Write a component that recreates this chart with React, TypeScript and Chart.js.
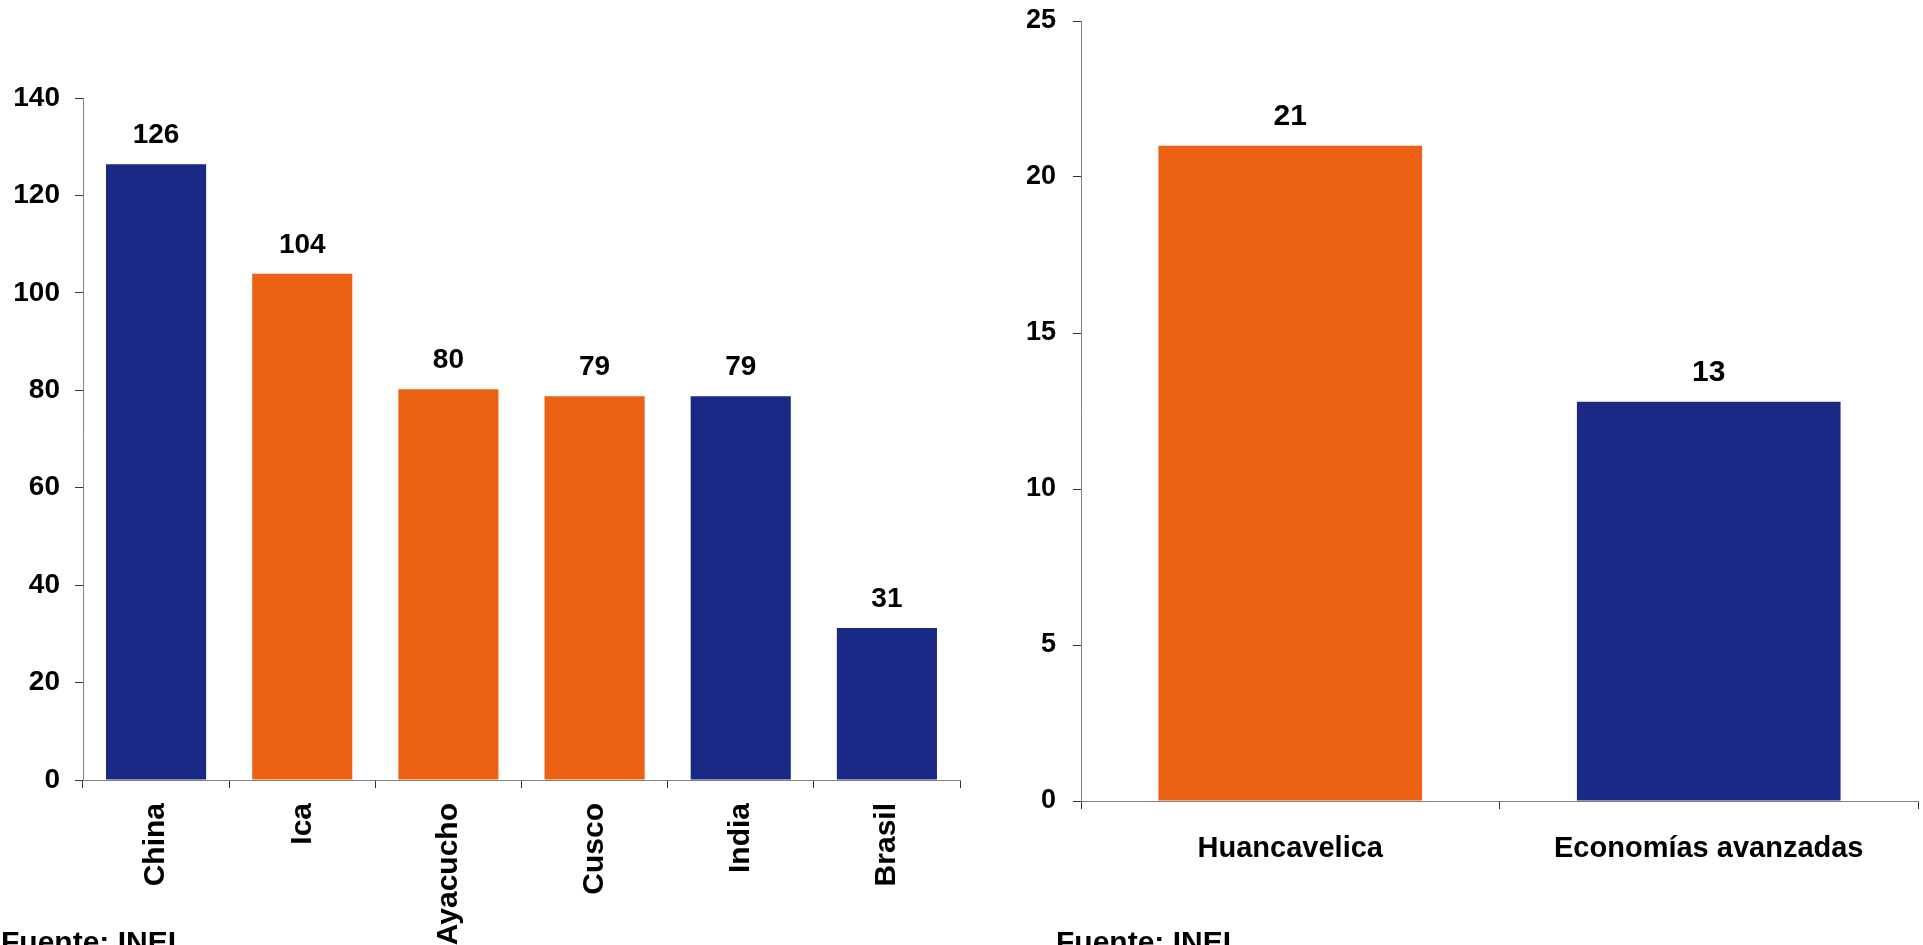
import React, { useEffect, useRef } from 'react';
import { Chart, registerables } from 'chart.js';

Chart.register(...registerables);

// ---- Data ----
const leftCategories = ['China', 'Ica', 'Ayacucho', 'Cusco', 'India', 'Brasil'];
const leftValues = [126.4, 103.9, 80.2, 78.8, 78.8, 31.2];
const leftTickMax = 140;
const leftTickStep = 20;

const rightCategories = ['Huancavelica', 'Economías avanzadas'];
const rightValues = [21.0, 12.8];
const rightTickMax = 25;
const rightTickStep = 5;

const sourceText = 'Fuente: INEI';

// ---- Styles ----
const BLUE = '#1a2986';
const ORANGE = '#ec6113';
const FONT = "'Liberation Sans', Arial, Helvetica, sans-serif";
const leftColors = [BLUE, ORANGE, ORANGE, ORANGE, BLUE, BLUE];
const rightColors = [ORANGE, BLUE];

const valueLabels = {
  id: 'valueLabels',
  afterDatasetsDraw(chart: any, _args: any, opts: any) {
    const ctx = chart.ctx;
    const meta = chart.getDatasetMeta(0);
    const data = chart.data.datasets[0].data as number[];
    ctx.save();
    ctx.font = `bold ${opts.size}px ${FONT}`;
    ctx.fillStyle = '#000';
    ctx.textAlign = 'center';
    ctx.textBaseline = 'alphabetic';
    meta.data.forEach((bar: any, i: number) => {
      ctx.fillText(String(Math.round(data[i])), bar.x, bar.y - opts.gap);
    });
    ctx.restore();
  },
};

type Props = {
  categories: string[];
  values: number[];
  colors: string[];
  max: number;
  step: number;
  padTop: number;
  padRight: number;
  yWidth: number;
  xHeight: number;
  barPct: number;
  yFont: number;
  xFont: number;
  xRot: number;
  xPad: number;
  yPad: number;
  valFont: number;
  valGap: number;
};

function BarChart(p: Props) {
  const ref = useRef<HTMLCanvasElement | null>(null);
  useEffect(() => {
    if (!ref.current) return;
    const chart = new Chart(ref.current, {
      type: 'bar',
      data: {
        labels: p.categories,
        datasets: [
          {
            data: p.values,
            backgroundColor: p.colors,
            borderWidth: 0,
            barPercentage: p.barPct,
            categoryPercentage: 1,
          },
        ],
      },
      plugins: [valueLabels],
      options: {
        animation: false,
        responsive: true,
        maintainAspectRatio: false,
        layout: { padding: { top: p.padTop, right: p.padRight, left: 0, bottom: 0 } },
        plugins: {
          legend: { display: false },
          tooltip: { enabled: false },
          valueLabels: { size: p.valFont, gap: p.valGap },
        } as any,
        scales: {
          x: {
            grid: {
              display: true,
              drawOnChartArea: false,
              drawTicks: true,
              tickLength: 8,
              tickColor: '#333333',
              offset: true,
            },
            border: { display: true, color: '#808080', width: 1 },
            ticks: {
              autoSkip: false,
              minRotation: p.xRot,
              maxRotation: p.xRot,
              padding: p.xPad,
              color: '#000',
              font: { family: FONT, size: p.xFont, weight: 'bold' },
            },
            afterFit(scale: any) {
              scale.height = p.xHeight;
              scale.paddingLeft = 0;
              scale.paddingRight = 0;
            },
          },
          y: {
            min: 0,
            max: p.max,
            grid: {
              display: true,
              drawOnChartArea: false,
              drawTicks: true,
              tickLength: 8,
              tickColor: '#333333',
            },
            border: { display: true, color: '#808080', width: 1 },
            ticks: {
              stepSize: p.step,
              padding: p.yPad,
              color: '#000',
              font: { family: FONT, size: p.yFont, weight: 'bold' },
            },
            afterFit(scale: any) {
              scale.width = p.yWidth;
              scale.paddingTop = 0;
              scale.paddingBottom = 0;
            },
          },
        },
      },
    });
    return () => chart.destroy();
  }, []);
  return <canvas ref={ref} />;
}

const sourceStyle: React.CSSProperties = {
  position: 'absolute',
  top: 927,
  fontFamily: FONT,
  fontWeight: 'bold',
  fontSize: 30,
  lineHeight: '30px',
  color: '#000',
  whiteSpace: 'nowrap',
};

export default function App() {
  return (
    <div
      style={{
        position: 'fixed',
        left: 0,
        top: 0,
        width: 1923,
        height: 945,
        background: '#fff',
        overflow: 'hidden',
      }}
    >
      <div style={{ position: 'absolute', left: 0, top: 0, width: 975, height: 945 }}>
        <BarChart
          categories={leftCategories}
          values={leftValues}
          colors={leftColors}
          max={leftTickMax}
          step={leftTickStep}
          padTop={98}
          padRight={15}
          yWidth={83}
          xHeight={165}
          barPct={0.685}
          yFont={28}
          xFont={30}
          xRot={90}
          xPad={15}
          yPad={15}
          valFont={28}
          valGap={21}
        />
      </div>
      <div style={{ position: 'absolute', left: 975, top: 0, width: 948, height: 945 }}>
        <BarChart
          categories={rightCategories}
          values={rightValues}
          colors={rightColors}
          max={rightTickMax}
          step={rightTickStep}
          padTop={21}
          padRight={5}
          yWidth={106}
          xHeight={144}
          barPct={0.63}
          yFont={27}
          xFont={29}
          xRot={0}
          xPad={23}
          yPad={17}
          valFont={30}
          valGap={21}
        />
      </div>
      <div style={{ ...sourceStyle, left: 1 }}>{sourceText}</div>
      <div style={{ ...sourceStyle, left: 1056 }}>{sourceText}</div>
    </div>
  );
}
